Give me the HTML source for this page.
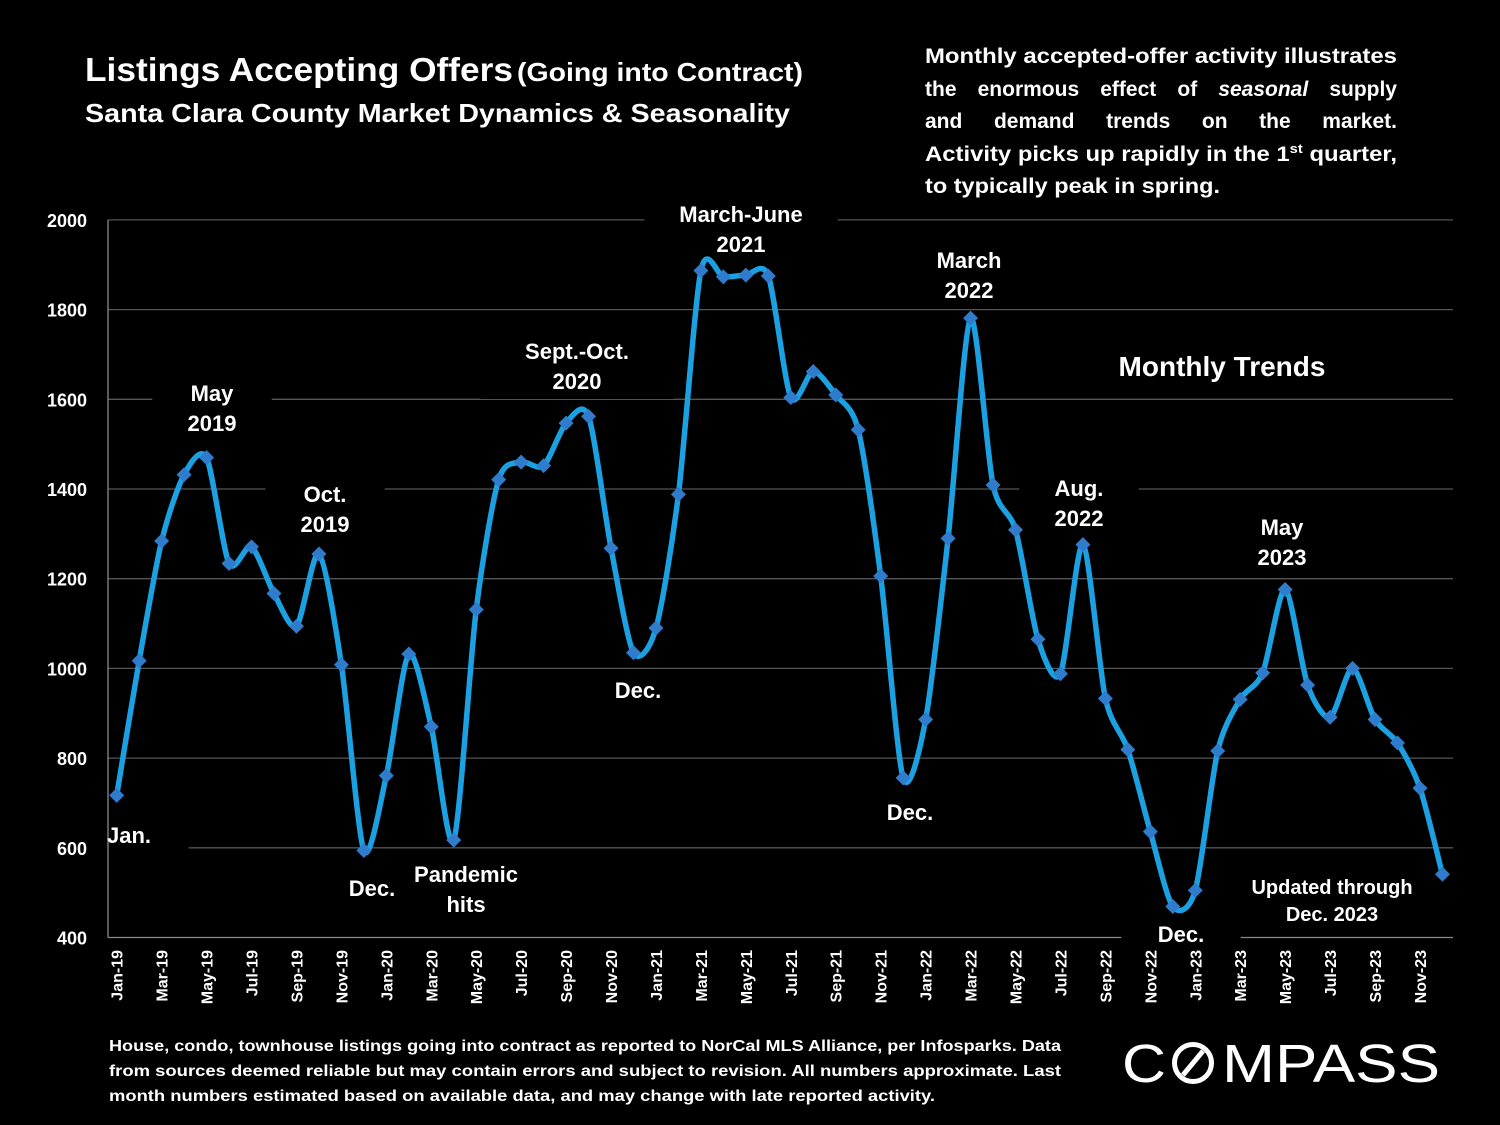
<!DOCTYPE html>
<html><head><meta charset="utf-8">
<style>
html,body{margin:0;padding:0;background:#000;}
svg{display:block;font-family:"Liberation Sans",sans-serif;}
</style></head>
<body>
<svg id="chart" width="1500" height="1125" viewBox="0 0 1500 1125" xmlns="http://www.w3.org/2000/svg">
<rect width="1500" height="1125" fill="#000"/>
<g id="grid"></g>
<g id="axes"></g>
<g id="series"></g>
<g id="annot"></g>
<g fill="#fff" font-weight="bold">
<text x="85" y="81" font-size="33" textLength="428" lengthAdjust="spacingAndGlyphs">Listings Accepting Offers</text>
<text x="517" y="81" font-size="26" textLength="286" lengthAdjust="spacingAndGlyphs">(Going into Contract)</text>
<text x="85" y="122" font-size="26" textLength="705" lengthAdjust="spacingAndGlyphs">Santa Clara County Market Dynamics &amp; Seasonality</text>
</g>
<g id="desc" fill="#fff" font-weight="bold" font-size="21">
<text x="925" y="63" textLength="472" lengthAdjust="spacingAndGlyphs">Monthly accepted-offer activity illustrates</text>
<text x="925" y="161" textLength="472" lengthAdjust="spacingAndGlyphs">Activity picks up rapidly in the 1<tspan font-size="13" dy="-8">st</tspan><tspan dy="8"> quarter,</tspan></text>
<text x="925" y="193" textLength="295" lengthAdjust="spacingAndGlyphs">to typically peak in spring.</text>
</g>
<g fill="#fff" font-weight="bold" font-size="16">
<text x="109" y="1051" textLength="952" lengthAdjust="spacingAndGlyphs">House, condo, townhouse listings going into contract as reported to NorCal MLS Alliance, per Infosparks. Data</text>
<text x="109" y="1076" textLength="952" lengthAdjust="spacingAndGlyphs">from sources deemed reliable but may contain errors and subject to revision. All numbers approximate.  Last</text>
<text x="109" y="1101" textLength="826" lengthAdjust="spacingAndGlyphs">month numbers estimated based on available data, and may change with late reported activity.</text>
</g>
<g fill="#fff">
<text x="1122" y="1082" font-size="54" textLength="44" lengthAdjust="spacingAndGlyphs">C</text>
<circle cx="1193" cy="1063" r="18.5" fill="none" stroke="#fff" stroke-width="5"/>
<line x1="1183" y1="1075" x2="1203" y2="1051" stroke="#fff" stroke-width="5"/>
<text x="1222" y="1082" font-size="54" textLength="218" lengthAdjust="spacingAndGlyphs">MPASS</text>
</g>
</svg>
<script>
const months = ["Jan-19","Feb-19","Mar-19","Apr-19","May-19","Jun-19","Jul-19","Aug-19","Sep-19","Oct-19","Nov-19","Dec-19",
"Jan-20","Feb-20","Mar-20","Apr-20","May-20","Jun-20","Jul-20","Aug-20","Sep-20","Oct-20","Nov-20","Dec-20",
"Jan-21","Feb-21","Mar-21","Apr-21","May-21","Jun-21","Jul-21","Aug-21","Sep-21","Oct-21","Nov-21","Dec-21",
"Jan-22","Feb-22","Mar-22","Apr-22","May-22","Jun-22","Jul-22","Aug-22","Sep-22","Oct-22","Nov-22","Dec-22",
"Jan-23","Feb-23","Mar-23","Apr-23","May-23","Jun-23","Jul-23","Aug-23","Sep-23","Oct-23","Nov-23","Dec-23"];
const listings = [717,1017,1284,1432,1470,1234,1271,1167,1094,1255,1008,594,
761,1032,870,617,1131,1421,1460,1452,1547,1562,1268,1035,
1090,1388,1887,1873,1877,1875,1604,1662,1610,1532,1206,756,
886,1290,1781,1409,1309,1065,988,1276,933,819,636,469,
505,816,931,990,1176,963,891,1000,886,834,733,541];
const yTicks = [400,600,800,1000,1200,1400,1600,1800,2000];

const NS="http://www.w3.org/2000/svg";
function mk(tag,attrs,parent){const e=document.createElementNS(NS,tag);for(const k in attrs)e.setAttribute(k,attrs[k]);parent.appendChild(e);return e;}
const x0=116.7, dx=22.47, yBase=937.5, yScale=0.4485;
const X=i=>x0+i*dx;
const Y=v=>yBase-(v-400)*yScale;
const grid=document.getElementById('grid'), axes=document.getElementById('axes'), series=document.getElementById('series'), annot=document.getElementById('annot');

// justified description lines
const desc=document.getElementById('desc');
[[["the","enormous","effect","of","seasonal","supply"],96],[["and","demand","trends","on","the","market."],128]].forEach(([words,y])=>{
  const els=words.map(w=>{const t=mk('text',{x:0,y:y},desc);if(w==='seasonal')t.setAttribute('font-style','italic');t.textContent=w;return t;});
  const widths=els.map(e=>e.getComputedTextLength());
  const total=widths.reduce((a,b)=>a+b,0);
  const gap=(472-total)/(words.length-1);
  let x=925;
  els.forEach((e,i)=>{e.setAttribute('x',x);x+=widths[i]+gap;});
});

yTicks.forEach(t=>{
  const l=mk('line',{x1:108,x2:1453,y1:Y(t),y2:Y(t),stroke:t===400?'#8a8a8a':'#555','stroke-width':1.3},grid);
  
  
  const tx=mk('text',{x:87,y:Y(t)+7,'text-anchor':'end',fill:'#fff','font-size':18,'font-weight':'bold'},axes);
  tx.textContent=t;
  
  
});
const ax=mk('line',{x1:108,x2:108,y1:Y(2000),y2:Y(400),stroke:'#8a8a8a','stroke-width':1.3},axes);


months.forEach((m,i)=>{
  if(i%2)return;
  const tx=mk('text',{transform:`translate(${X(i)+6},950) rotate(-90)`,'text-anchor':'end',fill:'#fff','font-size':16,'font-weight':'bold'},axes);
  tx.textContent=m;
  
  
});

const notes=[
 [["May","2019"],212,401,22],[["Oct.","2019"],325,502,22],[["Jan."],129,843,22],[["Dec."],372,896,22],
 [["Pandemic","hits"],466,882,22],[["Sept.-Oct.","2020"],577,359,22],[["Dec."],638,698,22],
 [["March-June","2021"],741,222,22],[["March","2022"],969,268,22],[["Dec."],910,820,22],
 [["Aug.","2022"],1079,496,22],[["May","2023"],1282,535,22],[["Dec."],1181,942,22],
 [["Updated through","Dec. 2023"],1332,894,20],[["Monthly Trends"],1222,376,28]
];
notes.forEach(n=>{
  const [lines,cx,by,fs]=n;
  const w=Math.max(...lines.map(s=>s.length))*fs*0.56+70;
  const r=mk('rect',{x:cx-w/2,y:by-fs-6,width:w,height:lines.length*30+8,fill:'#000'},grid);
  
  
  lines.forEach((s,j)=>{
    const t=mk('text',{x:cx,y:by+j*(fs===20?27:30),'text-anchor':'middle',fill:'#fff','font-size':fs,'font-weight':'bold'},annot);
    t.textContent=s;
    
    
  });
});

const pts=listings.map((v,i)=>[X(i),Y(v)]);
let d=`M${pts[0][0]},${pts[0][1]}`;
const k=7.5;
for(let i=0;i<pts.length-1;i++){
  const p0=pts[Math.max(0,i-1)],p1=pts[i],p2=pts[i+1],p3=pts[Math.min(pts.length-1,i+2)];
  const c1=[p1[0]+(p2[0]-p0[0])/k,p1[1]+(p2[1]-p0[1])/k];
  const c2=[p2[0]-(p3[0]-p1[0])/k,p2[1]-(p3[1]-p1[1])/k];
  d+=` C${c1[0]},${c1[1]} ${c2[0]},${c2[1]} ${p2[0]},${p2[1]}`;
}
const path=mk('path',{d:d,fill:'none',stroke:'#1ba1e2','stroke-width':5.5,'stroke-linejoin':'round'},series);


pts.forEach((p,i)=>{
  const s=7.5;
  const m=mk('polygon',{points:`${p[0]},${p[1]-s} ${p[0]+s},${p[1]} ${p[0]},${p[1]+s} ${p[0]-s},${p[1]}`,fill:'#2f7ccc'},series);
  
  
});
</script>
</body></html>
